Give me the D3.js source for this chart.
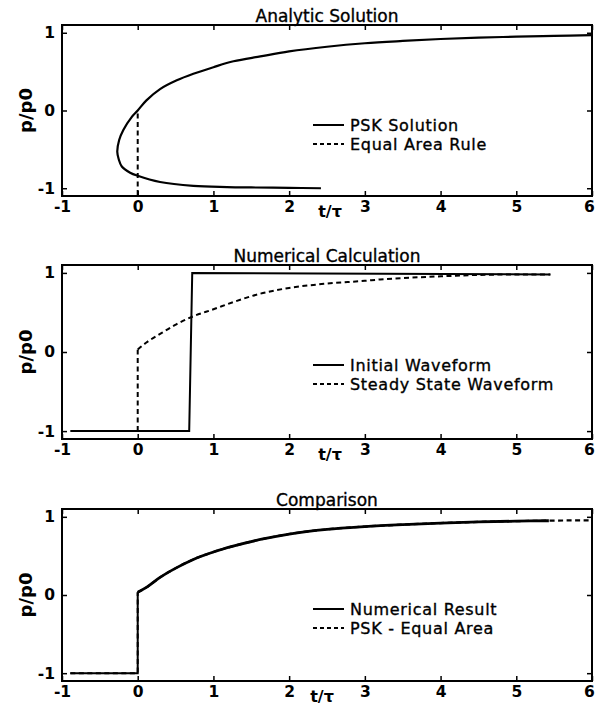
<!DOCTYPE html>
<html><head><meta charset="utf-8">
<script src="https://cdn.jsdelivr.net/npm/d3@7/dist/d3.min.js"></script>
<style>
body{margin:0;background:#fff;}
svg text{font-family:"DejaVu Sans",sans-serif;fill:#000;}
</style></head>
<body><svg id="c" width="595" height="714"></svg>
<script>
// ---- data ----
const xTicks = [-1, 0, 1, 2, 3, 4, 5, 6];
const xTickLabels = ["-1", "0", "1", "2", "3", "4", "5", "6"];
const yTicks = [-1, 0, 1];
const yTickLabels = ["-1", "0", "1"];
const titles = ["Analytic Solution", "Numerical Calculation", "Comparison"];

// Panel 1: PSK solution (multivalued, ordered along the curve)
const pskT = [2.42, 2.0, 1.5, 1.18, 0.735, 0.295, 0.0, -0.1, -0.21, -0.25, -0.27, -0.245, -0.19, -0.08, 0.0, 0.115, 0.295, 0.516, 0.735, 1.0, 1.265, 1.62, 2.0, 2.5, 3.0, 3.5, 4.0, 4.5, 5.0, 5.5, 6.0];
const pskP = [-1.0, -0.995, -0.99, -0.985, -0.97, -0.92, -0.84, -0.80, -0.72, -0.63, -0.53, -0.38, -0.25, -0.085, 0.0, 0.13, 0.275, 0.388, 0.472, 0.557, 0.633, 0.696, 0.76, 0.82, 0.865, 0.895, 0.92, 0.937, 0.95, 0.96, 0.97];
// Panel 1: equal area rule
const eqT = [0, 0];
const eqP = [-0.04, -1.1];

// Panel 2: initial waveform
const initT = [-0.89, 0.68, 0.72, 5.45];
const initP = [-1, -1, 1.0, 0.98];
// Panel 2: steady state waveform (jump then curve)
const ssJumpT = [0, 0];
const ssJumpP = [-1, 0.03];
const ssT = [0, 0.115, 0.29, 0.51, 0.73, 1.0, 1.26, 1.61, 2.0, 2.5, 3.0, 3.2, 3.5, 4.08, 4.52, 5.0, 5.45];
const ssP = [0.03, 0.12, 0.225, 0.35, 0.45, 0.54, 0.63, 0.735, 0.81, 0.865, 0.90, 0.917, 0.935, 0.96, 0.975, 0.98, 0.98];

// Panel 3: numerical result
const numJumpT = [-0.89, 0, 0];
const numJumpP = [-1, -1, 0.035];
const numT = [0, 0.12, 0.295, 0.515, 0.735, 1.0, 1.26, 1.62, 2.0, 2.5, 3.0, 3.5, 4.0, 4.5, 5.0, 5.43];
const numP = [0.035, 0.10, 0.225, 0.35, 0.455, 0.55, 0.625, 0.71, 0.78, 0.84, 0.875, 0.90, 0.92, 0.935, 0.945, 0.95];
// Panel 3: PSK - equal area
const peaJumpT = [-0.89, 0, 0];
const peaJumpP = [-1, -1, 0.035];
const peaT = [0, 0.12, 0.295, 0.515, 0.735, 1.0, 1.26, 1.62, 2.0, 2.5, 3.0, 3.5, 4.0, 4.5, 5.0, 5.5, 6.0];
const peaP = [0.035, 0.10, 0.225, 0.35, 0.455, 0.55, 0.625, 0.71, 0.78, 0.84, 0.875, 0.90, 0.92, 0.935, 0.945, 0.952, 0.955];

const legends = [
  ["PSK Solution", "Equal Area Rule"],
  ["Initial Waveform", "Steady State Waveform"],
  ["Numerical Result", "PSK - Equal Area"]
];

// ---- layout ----
const svg = d3.select("#c");
const L = 62, R = 592;
const boxes = [[25, 196], [265, 439], [509, 681]];
const xLabelX = [330, 330, 322];
const DASH = "5,3.5";

function zip(a, b) { return a.map((v, i) => [v, b[i]]); }

boxes.forEach((bx, k) => {
  const [top, bot] = bx;
  const x = d3.scaleLinear().domain([-1, 6]).range([L, R]);
  const y = d3.scaleLinear().domain([-1.1, 1.1]).range([bot, top]);
  const g = svg.append("g");

  const line = d3.line().x(d => x(d[0])).y(d => y(d[1]));
  const lineCR = d3.line().x(d => x(d[0])).y(d => y(d[1])).curve(d3.curveCatmullRom.alpha(0.5));
  const lineM = d3.line().x(d => x(d[0])).y(d => y(d[1])).curve(d3.curveMonotoneX);

  function path(gen, data, dashed, w) {
    g.append("path").attr("d", gen(data)).attr("fill", "none")
      .attr("stroke", "#000").attr("stroke-width", w || 2)
      .attr("stroke-dasharray", dashed ? DASH : null);
  }

  if (k === 0) {
    path(lineCR, zip(pskT, pskP), false, 2.2);
    path(line, zip(eqT, eqP), true, 2);
  } else if (k === 1) {
    path(line, zip(initT, initP), false, 2);
    path(line, zip(ssJumpT, ssJumpP), true, 2);
    path(lineM, zip(ssT, ssP), true, 2);
  } else {
    path(line, zip(numJumpT, numJumpP), false, 2);
    path(lineM, zip(numT, numP), false, 2.8);
    path(line, zip(peaJumpT, peaJumpP), true, 2);
    path(lineM, zip(peaT, peaP), true, 2.2);
  }

  // box
  g.append("rect").attr("x", L).attr("y", top).attr("width", R - L).attr("height", bot - top)
    .attr("fill", "none").attr("stroke", "#000").attr("stroke-width", 2);

  // axes
  const ax = g.append("g").attr("transform", `translate(0,${bot})`)
    .call(d3.axisBottom(x).tickValues(xTicks).tickSizeInner(-5).tickSizeOuter(0).tickPadding(5)
      .tickFormat((d, i) => xTickLabels[i]));
  const axT = g.append("g").attr("transform", `translate(0,${top})`)
    .call(d3.axisTop(x).tickValues(xTicks).tickSizeInner(-5).tickSizeOuter(0).tickFormat(() => ""));
  const ay = g.append("g").attr("transform", `translate(${L},0)`)
    .call(d3.axisLeft(y).tickValues(yTicks).tickSizeInner(-5).tickSizeOuter(0).tickPadding(7)
      .tickFormat((d, i) => yTickLabels[i]));
  const ayR = g.append("g").attr("transform", `translate(${R},0)`)
    .call(d3.axisRight(y).tickValues(yTicks).tickSizeInner(-5).tickSizeOuter(0).tickFormat(() => ""));
  [ax, axT, ay, ayR].forEach(a => {
    a.select(".domain").remove();
    a.selectAll("line").attr("stroke", "#000").attr("stroke-width", 1.5);
    a.selectAll("text").style("font-family", '"DejaVu Sans",sans-serif')
      .style("font-size", "15.5px").style("font-weight", "bold").attr("fill", "#000");
  });
  // keep the last tick label inside the page edge
  ax.selectAll(".tick text").filter(d => d === 6).attr("dx", "-3");

  // title
  g.append("text").attr("x", (L + R) / 2).attr("y", top - 3).attr("text-anchor", "middle")
    .style("font-size", "17px").attr("stroke", "#000").attr("stroke-width", 0.35).text(titles[k]);
  // x label
  g.append("text").attr("x", xLabelX[k]).attr("y", bot + 21).attr("text-anchor", "middle")
    .style("font-size", "16px").style("font-weight", "bold").text("t/τ");
  // y label
  g.append("text").attr("transform", `translate(32,${(top + bot) / 2}) rotate(-90)`)
    .attr("text-anchor", "middle").style("font-size", "18px").style("font-weight", "bold").text("p/p0");

  // legend
  const ly = top + 106;
  [0, 1].forEach(j => {
    const yy = ly + j * 19;
    g.append("line").attr("x1", 313).attr("x2", 344).attr("y1", yy - 6).attr("y2", yy - 6)
      .attr("stroke", "#000").attr("stroke-width", 2).attr("stroke-dasharray", j === 1 ? "4,3" : null);
    g.append("text").attr("x", 350).attr("y", yy).style("font-size", "16px")
      .style("letter-spacing", "0.7px").attr("stroke", "#000").attr("stroke-width", 0.35)
      .text(legends[k][j]);
  });
});
</script></body></html>
